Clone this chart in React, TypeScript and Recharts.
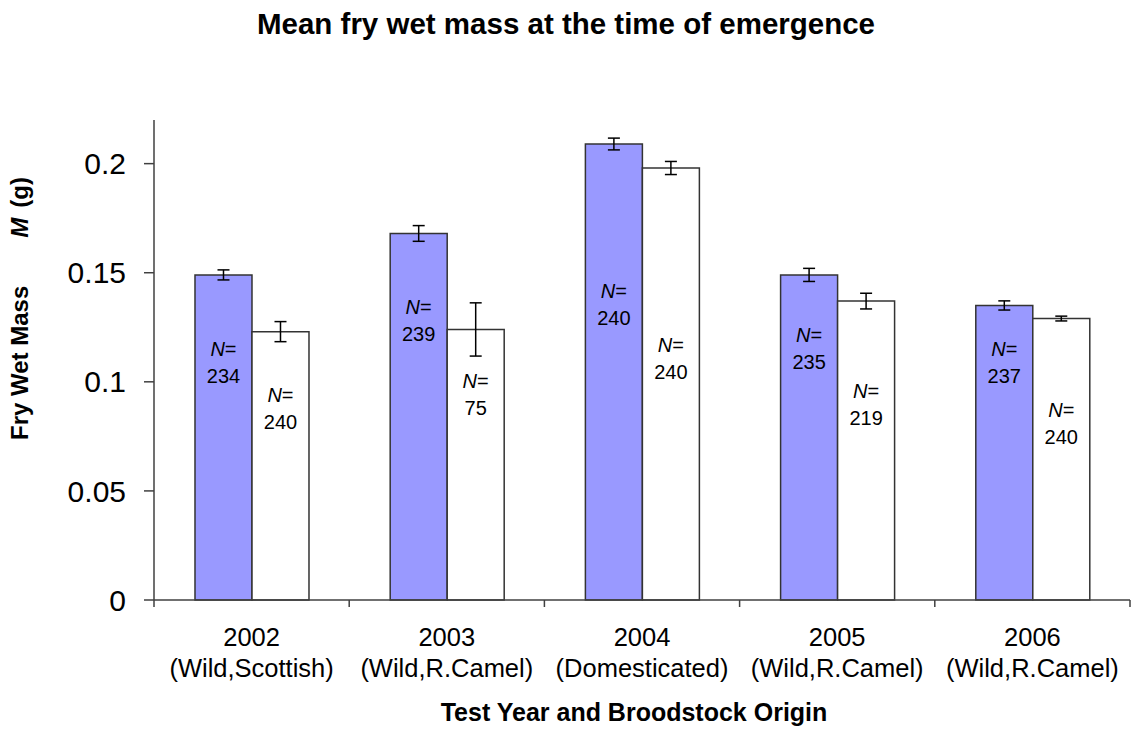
import React from 'react';
import { BarChart, Bar, XAxis, YAxis, ErrorBar, LabelList } from 'recharts';

const years = ['2002', '2003', '2004', '2005', '2006'];
const origins = ['(Wild,Scottish)', '(Wild,R.Camel)', '(Domesticated)', '(Wild,R.Camel)', '(Wild,R.Camel)'];
const blueMeans = [0.149, 0.168, 0.209, 0.149, 0.135];
const whiteMeans = [0.123, 0.124, 0.198, 0.137, 0.129];
const blueErr = [0.0023, 0.0036, 0.0027, 0.003, 0.0021];
const whiteErr = [0.0046, 0.0122, 0.003, 0.0036, 0.0011];
const blueN = [234, 239, 240, 235, 237];
const whiteN = [240, 75, 240, 219, 240];
const yTicks = [0, 0.05, 0.1, 0.15, 0.2];

// where the "N=" text sits, px below the top of each bar
const blueLabelDrop = [74, 74, 147, 60, 44];
const whiteLabelDrop = [63, 52, 177, 90, 91];

const data = years.map((year, i) => ({
  year,
  blue: blueMeans[i],
  white: whiteMeans[i],
  blueErr: blueErr[i],
  whiteErr: whiteErr[i],
}));

const FONT = '"Liberation Sans", Arial, sans-serif';
const AXIS = '#404040';

// two-line category label, plus the little tick marks that Excel puts between categories
const XTick = (props: any) => {
  const { x, y, payload, index, width, visibleTicksCount } = props;
  const half = payload.offset || width / visibleTicksCount / 2;
  const last = index === visibleTicksCount - 1;
  return (
    <g>
      <line x1={x - half} y1={y} x2={x - half} y2={y + 7} stroke={AXIS} strokeWidth={1.5} />
      {last && <line x1={x + half} y1={y} x2={x + half} y2={y + 7} stroke={AXIS} strokeWidth={1.5} />}
      <text x={x} y={y} textAnchor="middle" fontFamily={FONT} fontSize={25.5} fill="#000">
        <tspan x={x} dy={46}>{payload.value}</tspan>
        <tspan x={x} dy={31}>{origins[index]}</tspan>
      </text>
    </g>
  );
};

const makeNLabel = (counts: number[], drops: number[]) => (props: any) => {
  const { x, y, width, index } = props;
  const cx = Number(x) + Number(width) / 2;
  const top = Number(y) + drops[index];
  return (
    <g fontFamily={FONT} fontSize={20} fill="#000">
      <text x={cx} y={top} textAnchor="middle" dominantBaseline="central">
        <tspan fontStyle="italic">N</tspan>=
      </text>
      <text x={cx} y={top + 27} textAnchor="middle" dominantBaseline="central">
        {counts[index]}
      </text>
    </g>
  );
};

const YTitle = () => (
  <text
    transform="translate(28,440) rotate(-90)"
    textAnchor="start"
    fontFamily={FONT}
    fontSize={24}
    fontWeight="bold"
    fill="#000"
  >
    Fry Wet Mass
    <tspan dx={48} fontStyle="italic">M</tspan>
    <tspan dx={10}>(g)</tspan>
  </text>
);

const XTitle = (props: any) => {
  const { viewBox } = props;
  const cx = viewBox.x + viewBox.width / 2 - 8;
  return (
    <text x={cx} y={721} textAnchor="middle" fontFamily={FONT} fontSize={25} fontWeight="bold" fill="#000">
      Test Year and Broodstock Origin
    </text>
  );
};

export default function App() {
  return (
    <div style={{ position: 'absolute', left: 0, top: 0, width: 1132, height: 729, background: '#fff' }}>
      <div
        style={{
          position: 'absolute',
          left: 0,
          top: 7,
          width: 1132,
          textAlign: 'center',
          fontFamily: FONT,
          fontWeight: 'bold',
          fontSize: 29.5,
          color: '#000',
        }}
      >
        Mean fry wet mass at the time of emergence
      </div>
      <BarChart
        width={1132}
        height={729}
        data={data}
        margin={{ top: 120, right: 2, left: 0, bottom: 0 }}
        barCategoryGap="21%"
        barGap={0}
      >
        <XAxis
          dataKey="year"
          tick={<XTick />}
          tickLine={false}
          tickSize={0}
          tickMargin={0}
          axisLine={{ stroke: AXIS, strokeWidth: 1.5 }}
          height={129}
          interval={0}
          label={<XTitle />}
        />
        <YAxis
          domain={[0, 0.22]}
          ticks={yTicks}
          width={154}
          axisLine={{ stroke: AXIS, strokeWidth: 1.5 }}
          tickLine={{ stroke: AXIS, strokeWidth: 1.5 }}
          tickSize={10}
          tickMargin={18}
          tick={{ fontFamily: FONT, fontSize: 30, fill: '#000' }}
          label={<YTitle />}
        />
        <Bar dataKey="blue" fill="#9999FF" stroke="#333" strokeWidth={1.5} isAnimationActive={false}>
          <ErrorBar dataKey="blueErr" width={6} stroke="#000" strokeWidth={1.5} direction="y" />
          <LabelList dataKey="blue" content={makeNLabel(blueN, blueLabelDrop)} />
        </Bar>
        <Bar dataKey="white" fill="#FFFFFF" stroke="#333" strokeWidth={1.5} isAnimationActive={false}>
          <ErrorBar dataKey="whiteErr" width={6} stroke="#000" strokeWidth={1.5} direction="y" />
          <LabelList dataKey="white" content={makeNLabel(whiteN, whiteLabelDrop)} />
        </Bar>
      </BarChart>
    </div>
  );
}
